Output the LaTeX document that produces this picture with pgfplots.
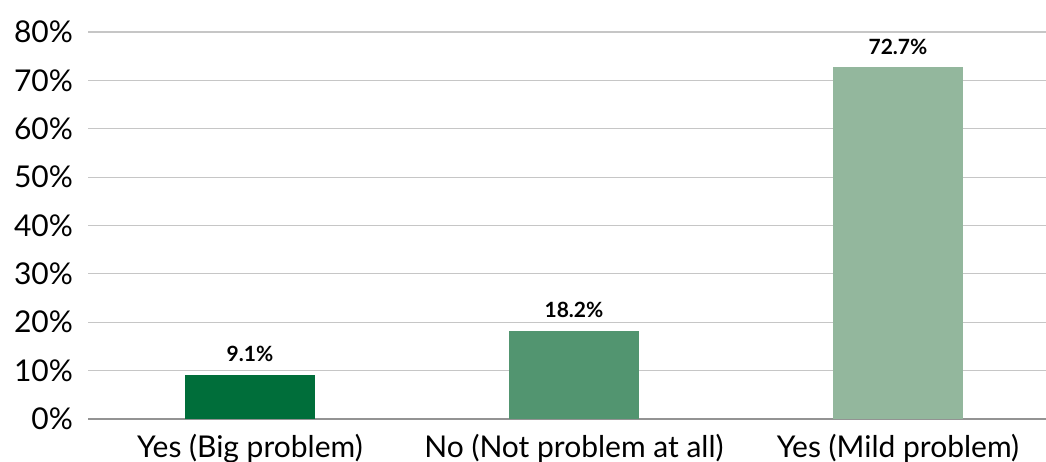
\documentclass[border=0pt]{standalone}
\usepackage{pgfplots}
\pgfplotsset{compat=1.18}
\usepackage{fontspec}
\setmainfont{Lato}
\usetikzlibrary{calc}
\definecolor{gA}{HTML}{006E3A}
\definecolor{gB}{HTML}{529570}
\definecolor{gC}{HTML}{93B79D}
\definecolor{gridc}{HTML}{C6C6C6}
\begin{document}
\begin{tikzpicture}
\begin{axis}[
  name=ax,
  scale only axis,
  width=479pt, height=193.5pt,
  xmin=-0.5, xmax=2.457,
  ymin=0, ymax=80,
  ytick={0,10,...,80},
  yticklabel={\pgfmathprintnumber{\tick}\%},
  /pgf/number format/assume math mode=true,
  xtick={0,1,2},
  xticklabels={Yes (Big problem),No (Not problem at all),Yes (Mild problem)},
  ymajorgrids,
  grid style={gridc, line width=0.6pt},
  axis x line*=bottom,
  axis y line*=left,
  y axis line style={draw=none},
  x axis line style={draw=gray!85, line width=0.8pt},
  major tick length=0pt,
  tick style={draw=none},
  ticklabel style={font=\fontsize{15}{16}\selectfont, text=black},
  yticklabel style={xshift=-4pt},
  xticklabel style={yshift=-4pt},
  ybar, bar width=65pt,
  bar shift=0pt,
  nodes near coords={\pgfmathprintnumber[fixed,precision=1,fixed zerofill]{\pgfplotspointmeta}\%},
  nodes near coords style={font=\fontsize{10.5}{12}\selectfont\bfseries, text=black, yshift=3pt},
]
\addplot[fill=gA, draw=none] coordinates {(0,9.1)};
\addplot[fill=gB, draw=none] coordinates {(1,18.2)};
\addplot[fill=gC, draw=none] coordinates {(2,72.7)};
\end{axis}
\pgfresetboundingbox
\path ($(ax.south west)+(-44pt,-21.5pt)$) rectangle ($(ax.north east)+(0,16pt)$);
\end{tikzpicture}
\end{document}
